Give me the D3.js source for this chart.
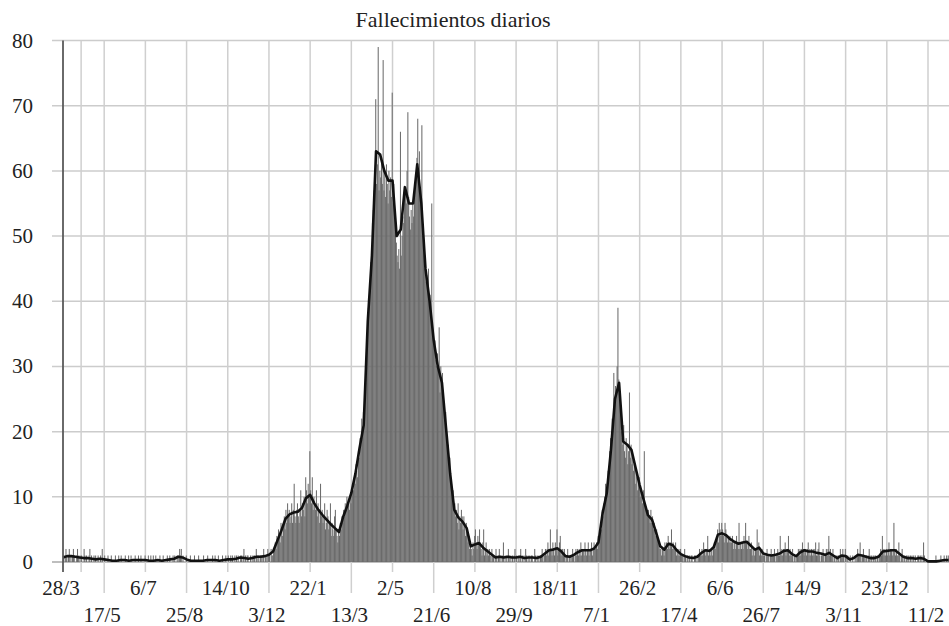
<!DOCTYPE html>
<html>
<head>
<meta charset="utf-8">
<script src="https://cdnjs.cloudflare.com/ajax/libs/d3/7.8.5/d3.min.js"></script>
<style>
body{margin:0;background:#fff;}
svg text{font-family:"Liberation Serif","DejaVu Serif",serif;fill:#222;}
</style>
</head>
<body>
<div class="main"></div>
<script>
// daily deaths, one value per day from 28/3/2020
var startDay = '2020-03-28';
var dailyDeaths = [
1,0,1,2,1,0,1,2,0,1, 0,1,2,1,0,0,1,2,1,0, 1,0,1,0,0,2,1,0,1,0, 0,1,2,0,1,0,0,1,0,1, 0,0,1,0,0,1,0,2,0,0,
1,0,0,0,1,0,0,0,1,0, 0,0,0,1,0,0,0,1,0,0, 1,0,0,0,0,1,0,0,0,1, 0,0,1,0,0,0,0,1,0,0, 0,1,0,0,1,0,0,0,0,1,
0,0,0,1,0,0,1,0,0,1, 0,0,1,0,0,0,0,1,0,0, 0,1,0,0,0,0,1,0,0,1, 0,0,0,1,0,1,0,0,1,0, 1,2,1,2,0,1,0,0,0,1,
0,0,0,0,1,0,0,0,0,1, 0,0,0,0,1,0,0,0,0,0, 1,0,0,0,0,1,0,0,0,0, 0,1,0,0,1,0,0,0,1,0, 0,0,0,1,0,0,0,1,0,0,
1,0,0,1,0,1,0,0,1,0, 1,0,1,0,0,1,1,0,1,2, 0,1,0,1,1,0,0,1,0,1, 0,1,1,0,2,1,0,1,0,1, 1,0,1,2,0,1,1,0,2,1,
1,0,2,1,1,2,2,3,2,4, 3,5,4,3,6,5,4,6,7,5, 8,6,9,7,8,6,7,9,6,8, 12,7,6,8,9,7,6,8,11,7, 9,8,10,7,13,11,9,12,10,17,
11,9,13,8,10,9,8,11,7,9, 8,6,12,7,8,6,7,9,5,6, 8,7,5,6,9,4,6,5,4,7, 8,5,4,3,5,4,6,5,7,6, 8,7,9,8,10,9,9,8,10,9,
11,12,11,13,12,15,14,13,17,16, 19,18,22,20,23,22,25,28,32,36, 39,40,43,46,48,52,54,57,60,71, 58,61,79,57,60,59,62,58,77,57, 60,56,61,58,55,60,57,59,56,72,
55,58,54,52,49,47,46,48,45,66, 47,50,53,52,56,57,55,60,69,56, 53,51,54,52,55,53,56,58,59,62, 68,60,63,57,55,67,50,48,45,46, 43,44,42,45,40,41,38,55,36,35,
33,34,31,30,32,29,36,26,30,27, 29,26,24,22,23,20,19,18,15,16, 13,12,10,11,8,9,7,8,6,9, 5,7,6,8,7,5,7,6,4,6, 5,3,4,2,3,2,1,3,2,4,
5,3,2,4,3,5,3,2,1,3, 5,1,2,3,1,2,1,2,1,0, 2,1,1,0,1,2,1,0,1,2, 0,1,0,1,3,0,1,0,1,0, 2,1,0,1,0,1,0,1,2,0,
1,0,1,0,1,2,0,1,0,1, 0,2,1,0,1,0,1,0,1,1, 0,0,2,1,0,1,0,1,0,1, 1,2,1,0,1,2,1,2,3,1, 2,5,2,1,3,2,1,3,2,5,
1,2,3,4,1,2,2,1,2,0, 1,1,2,0,1,1,0,1,2,1, 0,1,2,1,2,1,2,1,3,1, 2,2,1,3,2,1,2,3,1,2, 2,3,1,2,3,2,2,3,2,4,
3,4,6,5,8,7,9,10,12,11, 12,14,13,17,19,18,22,21,29,24, 27,26,30,39,28,25,24,20,19,18, 21,17,16,19,18,15,17,26,16,18, 15,16,14,15,12,14,13,11,12,13,
10,11,10,9,11,17,9,8,8,7, 8,7,6,8,6,7,5,6,5,4, 5,4,3,3,2,2,1,2,2,1, 3,2,3,2,4,3,2,3,5,2, 3,2,2,3,1,2,1,2,1,2,
1,1,1,0,2,1,0,1,1,0, 1,0,1,1,0,0,1,1,0,1, 0,1,2,1,1,2,1,3,2,1, 2,2,4,1,2,1,2,2,1,2, 3,2,3,4,5,3,6,5,4,6,
5,4,3,6,5,4,3,4,3,4, 3,3,4,2,3,3,2,4,3,2, 6,2,3,2,3,2,4,3,6,3, 2,3,4,2,2,3,1,2,2,1, 2,2,5,2,3,1,2,1,2,1,
1,1,0,1,2,1,1,0,1,2, 1,1,1,2,0,1,1,2,1,1, 4,1,2,1,2,2,3,1,2,2, 4,1,2,1,1,2,0,1,1,0, 1,1,2,1,2,1,2,3,2,1,
2,2,1,2,3,1,2,1,2,1, 2,1,2,3,1,1,2,3,1,0, 1,1,2,1,0,1,2,1,2,4, 1,2,1,1,2,0,1,0,1,0, 1,1,0,2,1,1,2,1,0,2,
1,0,1,0,0,1,0,0,1,0, 0,1,0,1,2,1,1,3,1,0, 1,2,1,0,1,1,0,1,2,1, 0,1,0,1,0,1,1,0,1,0, 1,1,2,1,4,2,1,2,1,2,
1,2,3,1,2,2,1,2,6,2, 1,2,1,1,3,1,0,1,2,1, 0,1,0,1,1,0,1,0,1,0, 1,0,1,0,1,0,0,1,1,0, 1,0,1,0,3,1,0,0,0,0,
0,0,0,0,0,0,0,0,0,1, 0,0,0,0,0,1,0,0,0,1, 0,0,1,0,1,0
];

// 7-day average, one value every 5 days
var avgStep = 5;
var avgDeaths = [
0.7,0.9,0.9,0.8,0.7,0.6,0.6,0.5,0.4,0.5,
0.4,0.3,0.2,0.2,0.3,0.3,0.2,0.3,0.3,0.3,
0.3,0.2,0.2,0.3,0.2,0.3,0.4,0.5,0.8,0.7,
0.4,0.2,0.2,0.2,0.2,0.3,0.3,0.3,0.2,0.3,
0.4,0.4,0.5,0.7,0.6,0.5,0.6,0.8,0.8,0.9,
1.1,1.6,3.2,4.8,6.6,7.3,7.6,7.7,8.3,9.8,
10.3,9.0,8.0,7.2,6.5,5.8,5.2,4.6,6.9,8.6,
10.6,13.6,17.5,21,37,47,63,62.5,60,58.5,
58.5,50,51,57.5,55,55,61,55,45,40,
34,30,27.5,20.5,13.5,8,6.8,6.2,5.2,2.4,
2.7,2.9,2.2,1.7,1.2,0.7,0.8,0.7,0.8,0.7,
0.7,0.8,0.6,0.7,0.7,0.6,0.8,1.3,1.8,1.9,
2.1,1.6,0.9,0.8,1.1,1.5,1.8,1.8,1.8,2.1,
3.0,7.5,10.5,17,25,27.5,18.5,18,17.2,14.5,
11.8,9.5,7.2,6.5,4.5,2.4,1.9,2.8,2.6,1.8,
1.2,0.9,0.7,0.6,0.8,1.4,1.8,1.7,2.3,4.2,
4.4,4.1,3.5,3.1,2.8,3.0,3.1,2.5,1.9,2.2,
1.3,1.1,1.0,1.1,1.3,1.7,1.8,1.2,0.9,1.5,
1.8,1.6,1.6,1.4,1.3,1.1,1.4,1.0,0.6,1.0,
0.9,0.4,0.6,1.1,1.0,0.8,0.6,0.6,0.8,1.6,
1.7,1.8,1.8,1.3,0.8,0.6,0.6,0.5,0.6,0.5,
0.1,0.1,0.1,0.2,0.3,0.3
];

// x labels every 50 days, alternating rows
var tickStep = 50;
var tickLabels = ['28/3','17/5','6/7','25/8','14/10','3/12','22/1','13/3','2/5','21/6','10/8',
                  '29/9','18/11','7/1','26/2','17/4','6/6','26/7','14/9','3/11','23/12','11/2'];
var extraGridDays = [22];
var yTicks = [0,10,20,30,40,50,60,70,80];
var title = 'Fallecimientos diarios';

var W = 949, H = 626;
var font = '"Liberation Serif","DejaVu Serif",serif';
var svg = d3.select('.main').append('svg')
            .attr('width', W)
            .attr('height', H);

var start = d3.utcParse('%Y-%m-%d')(startDay);
var day = function(i){ return d3.utcDay.offset(start, i); };

var x = d3.scaleUtc()
          .domain([start, day(tickStep*(tickLabels.length-1))])
          .range([63, 928]);
var y = d3.scaleLinear()
          .domain([0, 80])
          .range([562, 40.5]);

// horizontal grid + y labels
svg.selectAll('.hgrid')
   .data(yTicks)
   .enter().append('line')
   .attr('class','hgrid')
   .attr('x1', 52).attr('x2', W)
   .attr('y1', function(d){return y(d);})
   .attr('y2', function(d){return y(d);})
   .style('stroke', function(d){return d===0 ? '#a8a8a8' : '#cccccc';})
   .style('stroke-width', 1.5);

svg.selectAll('.ylab')
   .data(yTicks)
   .enter().append('text')
   .attr('class','ylab')
   .attr('x', 33)
   .attr('y', function(d){return y(d) + 7;})
   .attr('font-family', font)
   .style('text-anchor','end')
   .style('font-size','21px')
   .text(function(d){return d;});

// vertical grid
var gridDays = d3.range(1, tickLabels.length).map(function(i){return i*tickStep;}).concat(extraGridDays);
svg.selectAll('.vgrid')
   .data(gridDays)
   .enter().append('line')
   .attr('class','vgrid')
   .attr('x1', function(d){return x(day(d));})
   .attr('x2', function(d){return x(day(d));})
   .attr('y1', y(80))
   .attr('y2', function(d){
       var i = d / tickStep;
       if (i % 2 === 1) return 593;   // lower row label gets a long tick
       return 572;
   })
   .style('stroke','#cfcfcf')
   .style('stroke-width',1.5);

// bars
var barW = x(day(1)) - x(day(0));
svg.append('g')
   .selectAll('rect')
   .data(dailyDeaths)
   .enter().append('rect')
   .attr('x', function(d,i){return x(day(i));})
   .attr('width', barW + 0.2)
   .attr('y', function(d){return y(d);})
   .attr('height', function(d){return y(0) - y(d);})
   .style('fill','#6a6a6a');

// average line
var line = d3.line()
   .x(function(d,i){return x(day(i*avgStep));})
   .y(function(d){return y(d);});
svg.append('path')
   .datum(avgDeaths)
   .attr('d', line)
   .style('fill','none')
   .style('stroke','#111')
   .style('stroke-width',2.6)
   .style('stroke-linejoin','round');

// y axis line
svg.append('line')
   .attr('x1', 63).attr('x2', 63)
   .attr('y1', y(80)).attr('y2', 572)
   .style('stroke','#5a5a5a')
   .style('stroke-width',1.8);

// x labels
svg.selectAll('.xlab')
   .data(tickLabels)
   .enter().append('text')
   .attr('class','xlab')
   .attr('x', function(d,i){return x(day(i*tickStep)) - 2;})
   .attr('y', function(d,i){return i % 2 ? 622 : 595;})
   .attr('font-family', font)
   .style('text-anchor','middle')
   .style('font-size','21px')
   .text(function(d){return d;});

svg.append('text')
   .attr('x', 453)
   .attr('y', 27)
   .attr('font-family', font)
   .style('text-anchor','middle')
   .style('font-size','22px')
   .text(title);
</script>
</body>
</html>
